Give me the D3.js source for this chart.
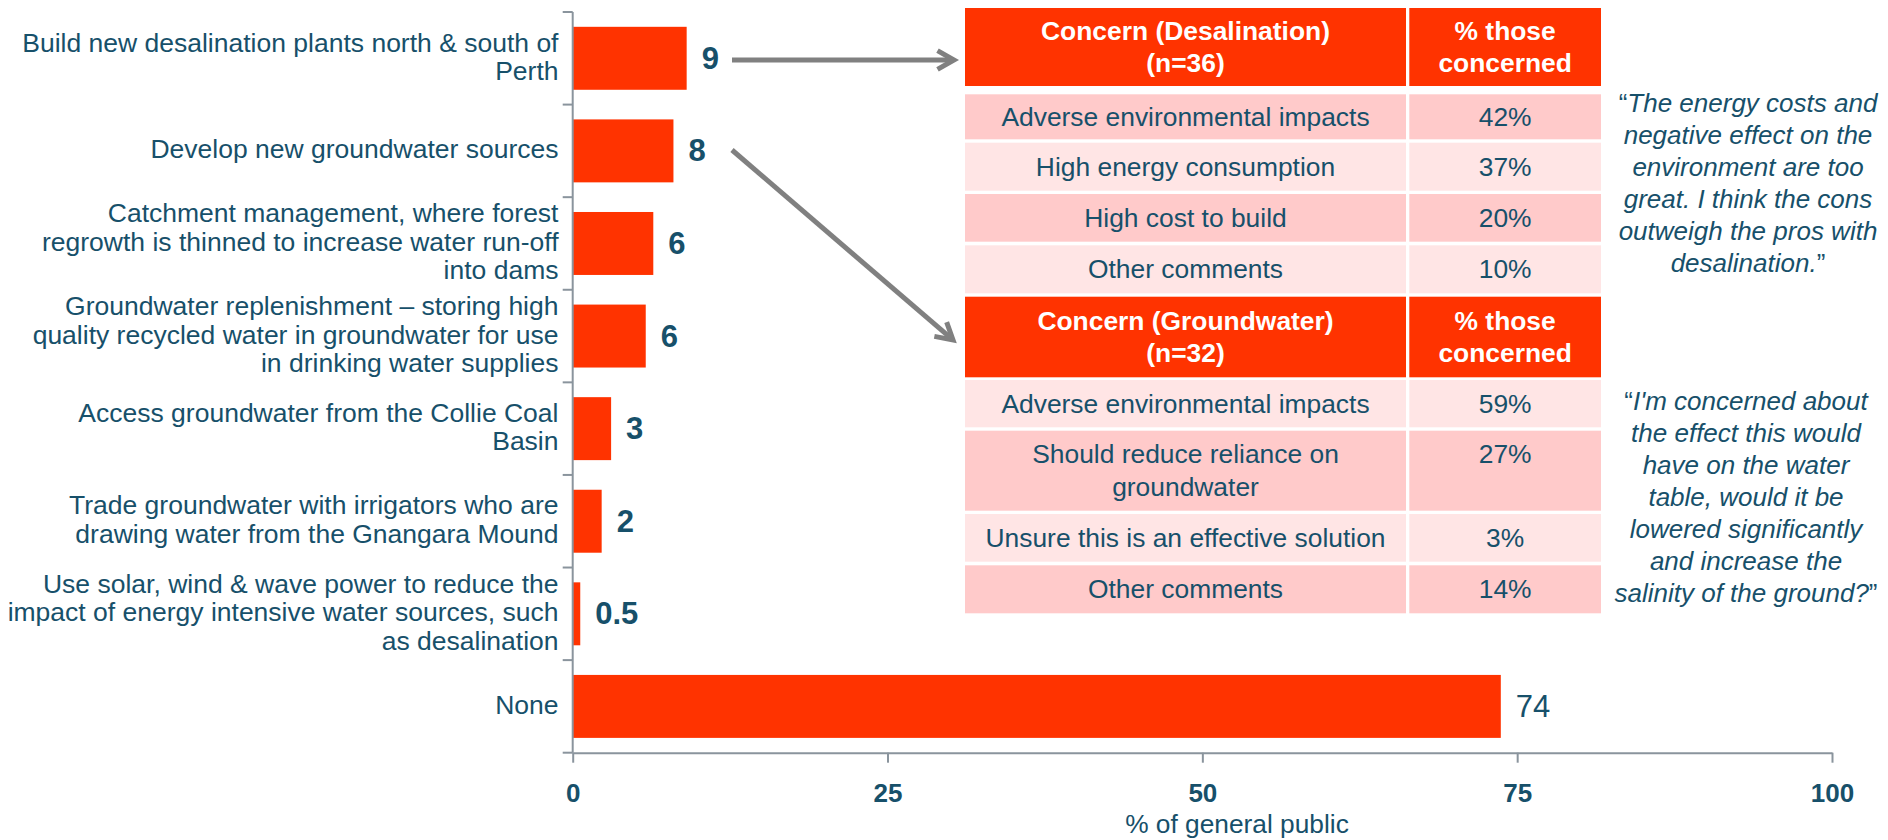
<!DOCTYPE html>
<html>
<head>
<meta charset="utf-8">
<script src="https://cdn.jsdelivr.net/npm/d3@7"></script>
<style>
  html, body { margin: 0; padding: 0; background: #fff; }
  svg { display: block; font-family: "Liberation Sans", Arial, sans-serif; }
</style>
</head>
<body>
<svg id="chart" width="1888" height="840"></svg>
<script>
// ---------------- data ----------------
const categories = [
  "Build new desalination plants north & south of\nPerth",
  "Develop new groundwater sources",
  "Catchment management, where forest\nregrowth is thinned to increase water run-off\ninto dams",
  "Groundwater replenishment \u2013 storing high\nquality recycled water in groundwater for use\nin drinking water supplies",
  "Access groundwater from the Collie Coal\nBasin",
  "Trade groundwater with irrigators who are\ndrawing water from the Gnangara Mound",
  "Use solar, wind & wave power to reduce the\nimpact of energy intensive water sources, such\nas desalination",
  "None"
];
const values = [9.05, 8.0, 6.4, 5.8, 3.05, 2.3, 0.6, 73.7];
const valueLabels = ["9", "8", "6", "6", "3", "2", "0.5", "74"];
const xTicks = [0, 25, 50, 75, 100];
const xTitle = "% of general public";

const desalHeader = ["Concern (Desalination)\n(n=36)", "% those\nconcerned"];
const desalConcerns = ["Adverse environmental impacts", "High energy consumption", "High cost to build", "Other comments"];
const desalPct = ["42%", "37%", "20%", "10%"];

const gwHeader = ["Concern (Groundwater)\n(n=32)", "% those\nconcerned"];
const gwConcerns = ["Adverse environmental impacts", "Should reduce reliance on\ngroundwater", "Unsure this is an effective solution", "Other comments"];
const gwPct = ["59%", "27%", "3%", "14%"];

const quote1 = ["The energy costs and", "negative effect on the", "environment are too", "great. I think the cons", "outweigh the pros with", "desalination."];
const quote2 = ["I'm concerned about", "the effect this would", "have on the water", "table, would it be", "lowered significantly", "and increase the", "salinity of the ground?"];

// ---------------- style ----------------
const ORANGE = "#ff3300";
const TEAL = "#17506a";
const AXIS = "#8a949d";
const PINK_D = "#ffcaca";
const PINK_L = "#ffe5e5";
const ARROW = "#808080";

const svg = d3.select("#chart");
svg.append("rect").attr("width", 1888).attr("height", 840).attr("fill", "#fff");

// ---------------- scales ----------------
const x = d3.scaleLinear().domain([0, 100]).range([572.7, 1832]);
const y = d3.scaleBand().domain(categories).range([12, 752.7]).paddingInner(0.32).paddingOuter(0.16);
const step = y.step();
const y0 = y.range()[0];

// ---------------- bars ----------------
svg.append("g").selectAll("rect").data(categories).join("rect")
  .attr("x", x(0))
  .attr("y", d => y(d))
  .attr("width", (d, i) => x(values[i]) - x(0))
  .attr("height", y.bandwidth())
  .attr("fill", ORANGE);

// value labels
svg.append("g").selectAll("text").data(categories).join("text")
  .attr("x", (d, i) => x(values[i]) + 15)
  .attr("y", d => y(d) + y.bandwidth() / 2)
  .attr("dominant-baseline", "central")
  .attr("font-size", 31)
  .attr("font-weight", (d, i) => i === categories.length - 1 ? "normal" : "bold")
  .attr("fill", TEAL)
  .text((d, i) => valueLabels[i]);

// category labels
const catG = svg.append("g");
categories.forEach(c => {
  const lines = c.split("\n");
  const cy = y(c) + y.bandwidth() / 2 - 1.5;
  const lh = 28.5;
  const t = catG.append("text")
    .attr("text-anchor", "end")
    .attr("font-size", 26.5)
    .attr("fill", TEAL);
  lines.forEach((ln, k) => {
    t.append("tspan")
      .attr("x", 558.5)
      .attr("y", cy + (k - (lines.length - 1) / 2) * lh)
      .attr("dominant-baseline", "central")
      .text(ln);
  });
});

// ---------------- axes ----------------
svg.append("line")
  .attr("x1", x(0)).attr("x2", x(0))
  .attr("y1", y0).attr("y2", y.range()[1])
  .attr("stroke", AXIS).attr("stroke-width", 2);
svg.append("g").selectAll("line").data(d3.range(categories.length + 1)).join("line")
  .attr("x1", x(0) - 10).attr("x2", x(0))
  .attr("y1", i => y0 + i * step).attr("y2", i => y0 + i * step)
  .attr("stroke", AXIS).attr("stroke-width", 2);

const xAxis = d3.axisBottom(x).tickValues(xTicks).tickSize(10).tickSizeOuter(0).tickPadding(21);
const xg = svg.append("g").attr("transform", `translate(0,${y.range()[1]})`).call(xAxis);
xg.select(".domain").attr("stroke", AXIS).attr("stroke-width", 2);
xg.selectAll(".tick line").attr("stroke", AXIS).attr("stroke-width", 2);
xg.selectAll(".tick text")
  .attr("font-size", 26).attr("font-weight", "bold").attr("fill", TEAL)
  .attr("font-family", "'Liberation Sans', Arial, sans-serif");

svg.append("text")
  .attr("x", 1237).attr("y", 833)
  .attr("text-anchor", "middle")
  .attr("font-size", 26.3)
  .attr("fill", TEAL)
  .text(xTitle);

// ---------------- tables ----------------
const col1 = [965, 1406];
const col2 = [1409.3, 1601];
const LH = 32.6;

function multiline(g, str, cx, cy, opts) {
  const lines = str.split("\n");
  const t = g.append("text")
    .attr("text-anchor", "middle")
    .attr("font-size", 26.4)
    .attr("font-weight", opts.bold ? "bold" : "normal")
    .attr("fill", opts.fill);
  lines.forEach((ln, k) => {
    t.append("tspan").attr("x", cx)
      .attr("y", cy + (k - (lines.length - 1) / 2) * LH)
      .attr("dominant-baseline", "central")
      .text(ln);
  });
}

function drawTable(header, headerY, concerns, pcts, rowsY, darkFirst) {
  const g = svg.append("g");
  [col1, col2].forEach((c, j) => {
    g.append("rect").attr("x", c[0]).attr("y", headerY[0])
      .attr("width", c[1] - c[0]).attr("height", headerY[1] - headerY[0])
      .attr("fill", ORANGE);
    multiline(g, header[j], (c[0] + c[1]) / 2, (headerY[0] + headerY[1]) / 2, { bold: true, fill: "#fff" });
  });
  concerns.forEach((txt, i) => {
    const r = rowsY[i];
    const fill = ((i % 2 === 0) === darkFirst) ? PINK_D : PINK_L;
    [col1, col2].forEach(c => {
      g.append("rect").attr("x", c[0]).attr("y", r[0])
        .attr("width", c[1] - c[0]).attr("height", r[1] - r[0])
        .attr("fill", fill);
    });
    const nLines = txt.split("\n").length;
    const cy = (r[0] + r[1]) / 2;
    multiline(g, txt, (col1[0] + col1[1]) / 2, cy, { fill: TEAL });
    multiline(g, pcts[i], (col2[0] + col2[1]) / 2, cy - (nLines - 1) / 2 * LH, { fill: TEAL });
  });
}

drawTable(desalHeader, [8, 86], desalConcerns, desalPct,
  [[94.3, 139.3], [142.7, 190.7], [194, 241.7], [245.3, 293.3]], true);
drawTable(gwHeader, [296.7, 377.3], gwConcerns, gwPct,
  [[380, 427.3], [430.7, 510.7], [514, 561.7], [565.3, 613.3]], false);

// ---------------- quotes ----------------
function drawQuote(lines, cx, firstY) {
  const g = svg.append("g");
  lines.forEach((ln, k) => {
    const t = g.append("text")
      .attr("x", cx).attr("y", firstY + k * 32)
      .attr("text-anchor", "middle")
      .attr("font-size", 26)
      .attr("fill", TEAL);
    if (k === 0) t.append("tspan").attr("font-style", "normal").text("\u201C");
    t.append("tspan").attr("font-style", "italic").text(ln);
    if (k === lines.length - 1) t.append("tspan").attr("font-style", "normal").text("\u201D");
  });
}
drawQuote(quote1, 1748, 112);
drawQuote(quote2, 1746, 410);

// ---------------- arrows ----------------
function arrow(x1, y1, x2, y2) {
  const g = svg.append("g").attr("stroke", ARROW).attr("stroke-width", 5).attr("fill", "none")
    .attr("stroke-linecap", "butt");
  const a = Math.atan2(y2 - y1, x2 - x1);
  g.append("line").attr("x1", x1).attr("y1", y1)
    .attr("x2", x2 - 2 * Math.cos(a)).attr("y2", y2 - 2 * Math.sin(a));
  const L = 19, spread = 0.52;
  const p1 = [x2 - L * Math.cos(a - spread), y2 - L * Math.sin(a - spread)];
  const p2 = [x2 - L * Math.cos(a + spread), y2 - L * Math.sin(a + spread)];
  g.append("path").attr("d", `M${p1[0]},${p1[1]}L${x2},${y2}L${p2[0]},${p2[1]}`)
    .attr("stroke-linejoin", "miter");
}
arrow(732, 60, 954, 60);
arrow(732, 150, 953, 340);
</script>
</body>
</html>
